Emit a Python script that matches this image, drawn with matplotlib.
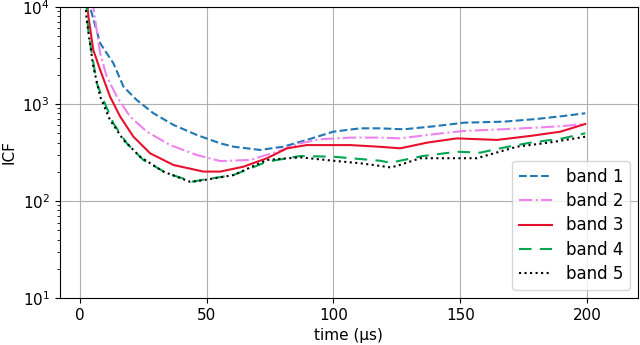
import matplotlib
matplotlib.use("Agg")
import matplotlib.pyplot as plt

t1 = [0, 2, 4.1, 8.1, 10.7, 13.3, 17.3, 22.5, 29.1, 37, 46.2, 55.4, 60.6, 71.1, 80.3, 89.5, 100, 110.5, 118.4, 127.6, 140, 151.3, 167, 180, 190.7, 199.2]
b1 = [1e5, 3e4, 1e4, 4230, 3330, 2630, 1506, 1099, 802, 608, 479, 393, 363, 336, 363, 426, 518, 561, 561, 548, 590, 641, 657, 700, 752, 802]

t2 = [0, 2, 5.4, 8.1, 10.7, 14.7, 19.9, 26.5, 35.7, 46.2, 55.4, 67.2, 77.7, 86.9, 94.8, 106.6, 118.4, 126.3, 140, 151.3, 167, 180, 190.7, 199.2]
b2 = [1e5, 3e4, 1e4, 3330, 1910, 1190, 740, 518, 377, 298, 258, 265, 322, 393, 433, 450, 450, 442, 490, 527, 549, 570, 593, 622]

t3 = [0, 2, 3.5, 5.4, 8.1, 12, 16, 21.2, 27.8, 37, 48.8, 55.4, 64.6, 73.8, 81.7, 89.5, 106.6, 118.4, 126.3, 137, 148.6, 164.4, 178, 189.4, 199.2]
b3 = [1e5, 2e4, 7950, 3600, 2245, 1190, 740, 460, 310, 235, 201, 201, 226, 276, 349, 377, 377, 362, 349, 400, 442, 426, 470, 518, 622]

t4 = [0, 2, 3.5, 6.8, 9.4, 13.3, 18.6, 25.1, 34.4, 44.8, 47.5, 60.6, 73.8, 86.9, 100, 118.4, 122.4, 135, 148.6, 157.8, 167, 177.5, 190, 199.2]
b4 = [1e5, 2e4, 5360, 1630, 1099, 632, 393, 265, 193, 158, 164, 185, 254, 291, 286, 260, 248, 290, 322, 315, 355, 399, 440, 499]

t5 = [0, 1.5, 2.8, 5.4, 8.1, 12, 17.3, 23.8, 33, 43.5, 47.5, 60.6, 73.8, 86.9, 100, 110.5, 118.4, 122.4, 125, 134.2, 156.5, 172.3, 185, 199.2]
b5 = [1e5, 2e4, 7350, 2430, 1190, 684, 426, 286, 201, 158, 162, 185, 265, 282, 260, 245, 230, 222, 230, 276, 276, 363, 400, 460]

labels = ["band 1", "band 2", "band 3", "band 4", "band 5"]
xticks = [0, 50, 100, 150, 200]

fig = plt.figure(figsize=(6.4, 3.45), dpi=100)
ax = fig.add_axes([0.093, 0.136, 0.904, 0.844])

ax.plot(t1, b1, color="#1f77b4", ls="--", lw=1.5, label=labels[0])
ax.plot(t2, b2, color="violet", ls="-.", lw=1.5, label=labels[1])
ax.plot(t3, b3, color="#e8112d", ls="-", lw=1.5, label=labels[2])
ax.plot(t4, b4, color="#00a651", lw=1.5, dashes=(6, 4), label=labels[3])
ax.plot(t5, b5, color="black", ls=":", lw=1.5, label=labels[4])

ax.set_yscale("log")
ax.set_ylim(10, 1e4)
ax.set_xlim(-7.9, 220)
ax.set_xticks(xticks)
ax.grid(True, which="major", color="#b0b0b0", lw=0.8)
ax.set_xlabel("time (μs)", fontsize=11)
ax.set_ylabel("ICF", fontsize=11)
ax.tick_params(labelsize=11)
ax.legend(loc="lower right", fontsize=12, labelspacing=0.38)

fig.savefig("out.png", dpi=100)
